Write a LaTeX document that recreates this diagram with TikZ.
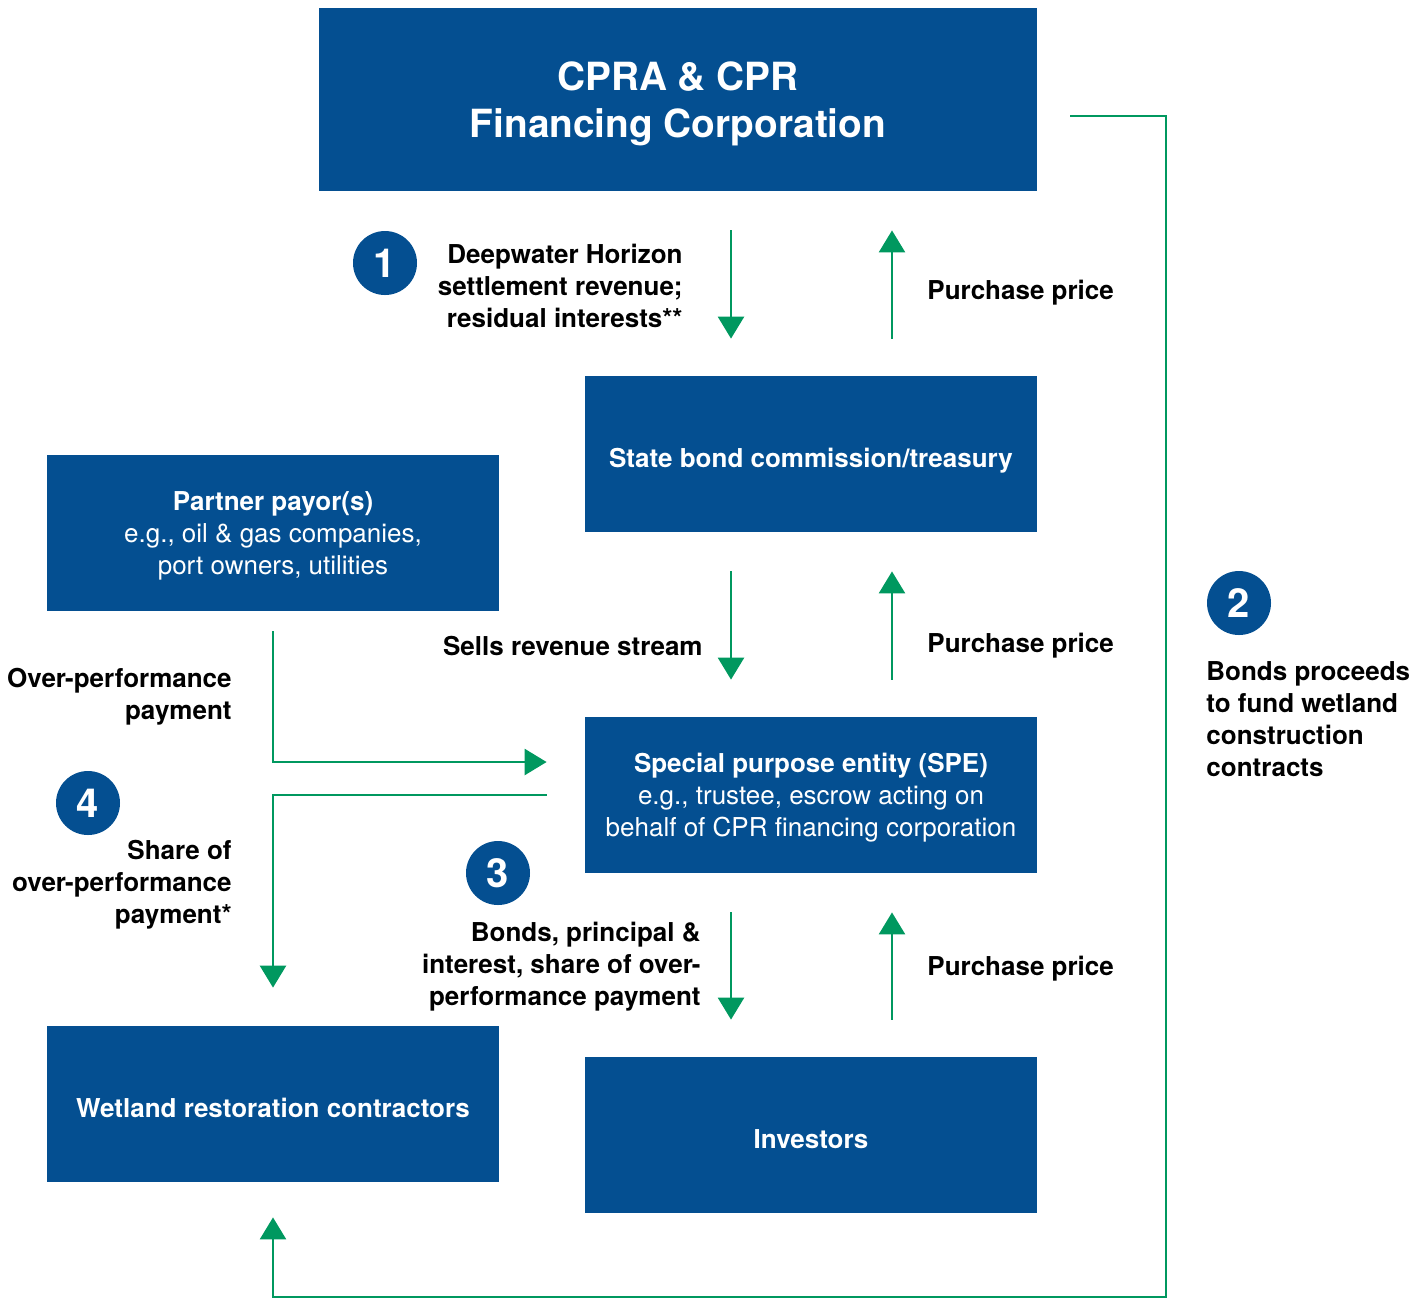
\documentclass[tikz,border=0pt]{standalone}
\usepackage{fontspec}
\setmainfont{TeX Gyre Heros}
\usetikzlibrary{arrows.meta}
\definecolor{cprblue}{HTML}{044F91}
\definecolor{flowgreen}{HTML}{00985F}

\begin{document}
\begin{tikzpicture}[
    x=0.5pt, y=-0.5pt,
    every node/.style={font=\fontsize{13}{16}\selectfont},
    block/.style={
        rectangle,
        fill=cprblue,
        text=white,
        minimum width=226pt,
        minimum height=78pt,
        align=center,
        inner sep=0pt,
        text depth=0pt
    },
    oneline/.style={
        block,
        text height=13.4pt,
        font=\fontsize{13}{16}\selectfont\bfseries
    },
    badge/.style={
        circle,
        fill=cprblue,
        text=white,
        minimum size=32pt,
        inner sep=0pt,
        font=\fontsize{20}{20}\selectfont\bfseries
    },
    note/.style={align=right, anchor=east, inner sep=0pt, font=\fontsize{13}{16}\selectfont\bfseries},
    noteleft/.style={align=left, anchor=west, inner sep=0pt, font=\fontsize{13}{16}\selectfont\bfseries},
    flow/.style={draw=flowgreen, line width=1.3pt, -{Triangle[length=11pt, width=13pt]}},
    down/.style={flow, shorten <=19.5pt, shorten >=18.5pt},
    up/.style={flow, shorten <=18.5pt, shorten >=19.5pt}
]
\useasboundingbox (0,0) rectangle (1413,1298);

% Boxes
\node[block, minimum width=359pt, minimum height=91.5pt, text depth=-2pt,
      font=\fontsize{19.4}{23.5}\selectfont\bfseries] (cpra) at (678,99.5)
      {CPRA \& CPR\\Financing Corporation};
\node[oneline] (sbc) at (811,454) {State bond commission/treasury};
\node[block] (partner) at (273,533)
      {\textbf{Partner payor(s)}\\e.g., oil \& gas companies,\\port owners, utilities};
\node[block] (spe) at (811,795)
      {\textbf{Special purpose entity (SPE)}\\e.g., trustee, escrow acting on\\behalf of CPR financing corporation};
\node[oneline] (wetland) at (273,1104) {Wetland restoration contractors};
\node[oneline] (inv) at (811,1135) {Investors};

% Arrow columns
\coordinate (lcol) at (731,0);
\coordinate (rcol) at (892,0);
\coordinate (corner) at (1166,1297);

% Vertical flows
\draw[down] (cpra.south -| lcol) -- (sbc.north -| lcol);
\draw[up] (sbc.north -| rcol) -- (cpra.south -| rcol);
\draw[down] (sbc.south -| lcol) -- (spe.north -| lcol);
\draw[up] (spe.north -| rcol) -- (sbc.south -| rcol);
\draw[down] (spe.south -| lcol) -- (inv.north -| lcol);
\draw[up] (inv.north -| rcol) -- (spe.south -| rcol);

% Elbow flows
\draw[flow, shorten <=10pt, shorten >=19pt] (partner.south) |- ([yshift=16.5pt]spe.west);
\draw[flow, shorten <=19pt, shorten >=19pt] (spe.west) -| (wetland.north);
\draw[flow, shorten <=16.5pt, shorten >=17.5pt] ([yshift=-8.25pt]cpra.east) -| (corner) -| (wetland.south);

% Badges
\node[badge] (b1) at (385,263) {1};
\node[badge] (b2) at (1239,603) {2};
\node[badge] (b3) at (498,873) {3};
\node[badge] (b4) at (88,803) {4};

% Labels
\node[note] (l1) at (683,286) {Deepwater Horizon\\settlement revenue;\\residual interests**};
\node[noteleft] (p1) at (927,293) {Purchase price};
\node[note] (l2) at (703,646) {Sells revenue stream};
\node[noteleft] (p2) at (927,646) {Purchase price};
\node[note] (l3) at (701,966.5) {Bonds, principal \&\\interest, share of over-\\performance payment};
\node[noteleft] (p3) at (927,969) {Purchase price};
\node[note] (l4) at (232,697) {Over-performance\\payment};
\node[note] (l5) at (232,884.5) {Share of\\over-performance\\payment*};
\node[noteleft] (l6) at (1206,719.5) {Bonds proceeds\\to fund wetland\\construction\\contracts};

\end{tikzpicture}
\end{document}
